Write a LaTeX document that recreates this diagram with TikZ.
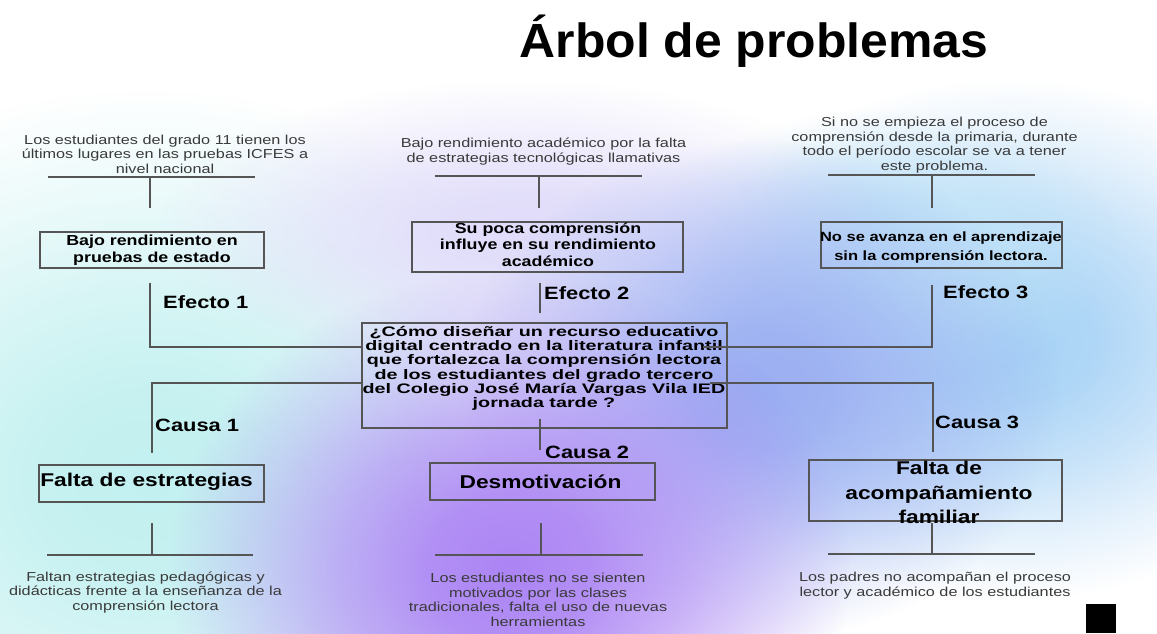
\documentclass[tikz,border=0pt]{standalone}
\usepackage{fontspec}
\setmainfont{Liberation Sans}
\newfontfamily\smallf[FakeStretch=1.25]{Liberation Sans}
\newfontfamily\boldf[FakeStretch=1.23]{Liberation Sans Bold}
\newfontfamily\centf[FakeStretch=1.43]{Liberation Sans Bold}
\newfontfamily\titlef[FakeStretch=1.04]{Liberation Sans Bold}
\usetikzlibrary{fadings}
\pgfdeclareradialshading{blobsh}{\pgfpointorigin}{color(0bp)=(white); color(6bp)=(white!90!black); color(12.5bp)=(white!62!black); color(19bp)=(white!28!black); color(25bp)=(black); color(50bp)=(black)}
\pgfdeclarefading{blob}{\pgfuseshading{blobsh}}
\definecolor{txt}{HTML}{3A3A3A}
\definecolor{ln}{HTML}{555555}
\definecolor{purp}{HTML}{AC84F4}
\definecolor{bluep}{HTML}{9AAEF2}
\definecolor{cyanb}{HTML}{C2F0F0}
\definecolor{skyb}{HTML}{A6D2F6}
\definecolor{lav}{HTML}{E0DCFA}
\definecolor{skyl}{HTML}{C0E4F8}
\tikzset{
  smalltxt/.style={align=center, inner sep=0pt, text=txt, font={\smallf\fontsize{13}{14.5}\selectfont}},
  effbox/.style={draw=ln, line width=1.2pt, inner sep=0pt, rectangle},
  efftxt/.style={align=center, inner sep=0pt, text=black, font={\boldf\fontsize{14.5}{16.5}\selectfont}},
  qtxt/.style={align=center, inner sep=0pt, text=black, font={\centf\fontsize{13.8}{14.3}\selectfont}},
  labeltxt/.style={anchor=west, inner sep=0pt, text=black, font={\boldf\fontsize{17.8}{20}\selectfont}},
  causetxt/.style={align=center, inner sep=0pt, text=black, font={\boldf\fontsize{18.5}{24.5}\selectfont}},
  titletxt/.style={inner sep=0pt, text=black, font={\titlef\fontsize{48}{56}\selectfont}},
  ln/.style={draw=ln, line width=1.5pt},
  blobfill/.style={fill=#1, path fading=blob, fit fading=true}
}
\begin{document}
\begin{tikzpicture}[x=1pt,y=-1pt]
\useasboundingbox (0,0) rectangle (1157,633);
\fill[white] (0,0) rectangle (1157,633);
% background blobs
\fill[blobfill=cyanb] (150,480) ellipse [x radius=480, y radius=390];
\fill[blobfill=skyb] (1010,340) ellipse [x radius=340, y radius=260];
\fill[blobfill=skyl] (880,250) ellipse [x radius=240, y radius=140];
\fill[blobfill=lav] (520,230) ellipse [x radius=360, y radius=150];
\fill[blobfill=bluep] (760,390) ellipse [x radius=300, y radius=250];
\fill[blobfill=purp] (510,570) ellipse [x radius=340, y radius=300];

% title
\node[titletxt, anchor=base] (title) at (754,57) {Árbol de problemas};

% top texts
\node[smalltxt] (t1) at (165,154) {Los estudiantes del grado 11 tienen los\\últimos lugares en las pruebas ICFES a\\nivel nacional};
\node[smalltxt] (t2) at (543.5,151.5) {Bajo rendimiento académico por la falta\\de estrategias tecnológicas llamativas};
\node[smalltxt] (t3) at (934.5,145) {Si no se empieza el proceso de\\comprensión desde la primaria, durante\\todo el período escolar se va a tener\\este problema.};

% top bars
\coordinate (h1l) at (48,177); \coordinate (h1r) at (255,177);
\coordinate (h1m) at (150,177); \coordinate (v1e) at (150,208);
\coordinate (h2l) at (435,176); \coordinate (h2r) at (642,176);
\coordinate (h2m) at (539,176); \coordinate (v2e) at (539,208);
\coordinate (h3l) at (828,175); \coordinate (h3r) at (1035,175);
\coordinate (h3m) at (932,175); \coordinate (v3e) at (932,208);
\draw[ln] (h1l) -- (h1r); \draw[ln] (h1m) -- (v1e);
\draw[ln] (h2l) -- (h2r); \draw[ln] (h2m) -- (v2e);
\draw[ln] (h3l) -- (h3r); \draw[ln] (h3m) -- (v3e);

% effect boxes
\node[effbox, minimum width=224pt, minimum height=36pt] (e1) at (152,250) {};
\node[efftxt] (e1t) at (152,250) {Bajo rendimiento en\\pruebas de estado};
\node[effbox, minimum width=271pt, minimum height=50pt] (e2) at (547.5,247) {};
\node[efftxt] (e2t) at (548,244.5) {Su poca comprensión\\influye en su rendimiento\\académico};
\node[effbox, minimum width=241pt, minimum height=46pt] (e3) at (941.5,245) {};
\node[efftxt, font={\boldf\fontsize{13.4}{19}\selectfont}] (e3t) at (941,247.5) {No se avanza en el aprendizaje\\sin la comprensión lectora.};

% labels
\node[labeltxt] (ef1) at (163,302) {Efecto 1};
\node[labeltxt] (ef2) at (544,293) {Efecto 2};
\node[labeltxt] (ef3) at (943,292) {Efecto 3};
\node[labeltxt] (ca1) at (155,425) {Causa 1};
\node[labeltxt] (ca2) at (545,452) {Causa 2};
\node[labeltxt] (ca3) at (935,422) {Causa 3};

% central question
\node[effbox, minimum width=365pt, minimum height=105pt] (q) at (544.5,375.5) {};
\node[qtxt] (qt) at (544,368.5) {¿Cómo diseñar un recurso educativo\\digital centrado en la literatura infantil\\que fortalezca la comprensión lectora\\de los estudiantes del grado tercero\\del Colegio José María Vargas Vila IED\\jornada tarde ?};

% middle connectors
\coordinate (e1a) at (150,283); \coordinate (qL1) at (362,347);
\coordinate (e3a) at (932,285); \coordinate (qR1) at (703,347);
\coordinate (e2a) at (540,283); \coordinate (e2b) at (540,313);
\coordinate (qL2) at (362,383); \coordinate (c1a) at (152,453);
\coordinate (qR2) at (710,383); \coordinate (c3a) at (933,452);
\coordinate (qB) at (540,419); \coordinate (c2a) at (540,450);
\draw[ln] (e1a) |- (qL1);
\draw[ln] (qR1) -| (e3a);
\draw[ln] (e2a) -- (e2b);
\draw[ln] (qL2) -| (c1a);
\draw[ln] (qR2) -| (c3a);
\draw[ln] (qB) -- (c2a);

% cause boxes
\node[effbox, minimum width=225pt, minimum height=37pt] (c1) at (151.5,483.5) {};
\node[causetxt] (c1t) at (146.5,482) {Falta de estrategias};
\node[effbox, minimum width=225pt, minimum height=37pt] (c2) at (542.5,481.5) {};
\node[causetxt] (c2t) at (540.5,482) {Desmotivación};
\node[effbox, minimum width=253pt, minimum height=61pt] (c3) at (935.5,490.5) {};
\node[causetxt] (c3t) at (939,492.5) {Falta de\\acompañamiento\\familiar};

% bottom bars
\coordinate (b1a) at (152,523); \coordinate (b1m) at (152,555);
\coordinate (b1l) at (47,555); \coordinate (b1r) at (253,555);
\coordinate (b2a) at (541,523); \coordinate (b2m) at (541,555);
\coordinate (b2l) at (435,555); \coordinate (b2r) at (643,555);
\coordinate (b3a) at (932,523); \coordinate (b3m) at (932,554);
\coordinate (b3l) at (828,554); \coordinate (b3r) at (1035,554);
\draw[ln] (b1a) -- (b1m); \draw[ln] (b1l) -- (b1r);
\draw[ln] (b2a) -- (b2m); \draw[ln] (b2l) -- (b2r);
\draw[ln] (b3a) -- (b3m); \draw[ln] (b3l) -- (b3r);

% bottom texts
\node[smalltxt] (B1) at (145.5,592.5) {Faltan estrategias pedagógicas y\\didácticas frente a la enseñanza de la\\comprensión lectora};
\node[smalltxt] (B2) at (538,600) {Los estudiantes no se sienten\\motivados por las clases\\tradicionales, falta el uso de nuevas\\herramientas};
\node[smalltxt] (B3) at (935,585.5) {Los padres no acompañan el proceso\\lector y académico de los estudiantes};

% corner mark
\fill[black] (1086,604) rectangle (1116,633);
\end{tikzpicture}
\end{document}
